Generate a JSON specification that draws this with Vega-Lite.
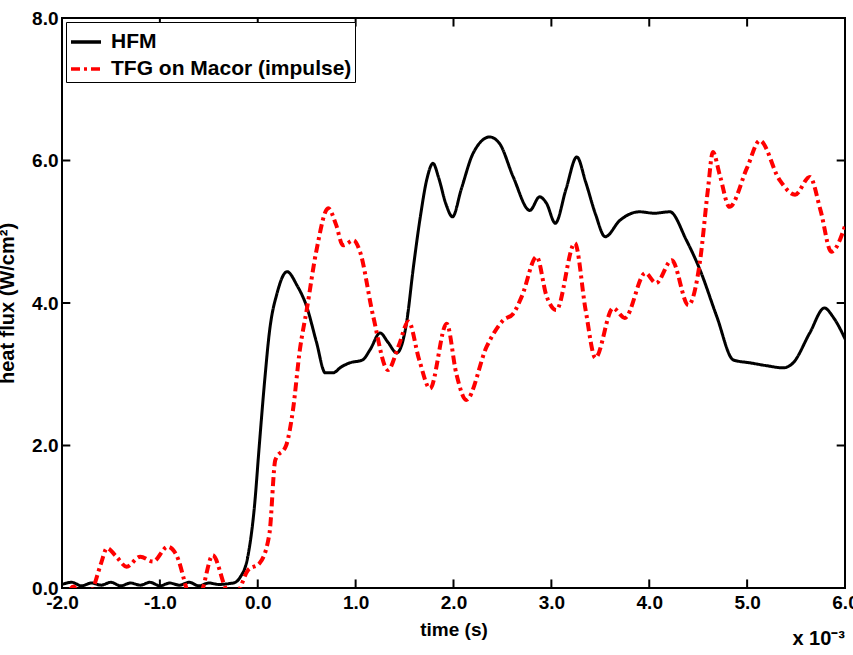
{
  "$schema": "https://vega.github.io/schema/vega-lite/v6.json",
  "width": 783,
  "height": 570,
  "autosize": "none",
  "padding": {"left": 62, "top": 18, "right": 8, "bottom": 67},
  "background": "white",
  "config": {
    "view": {"stroke": "black", "strokeWidth": 2},
    "font": "Liberation Sans",
    "axis": {
      "domainColor": "black", "ticks": false, "grid": false, "labelFont": "Liberation Sans", "labelFontSize": 19,
      "labelFontWeight": "bold", "labelColor": "black", "titleFont": "Liberation Sans",
      "titleFontSize": 19, "titleFontWeight": "bold", "titleColor": "black", "labelFlush": false
    },
    "legend": {
      "orient": "top-left", "offset": 4, "strokeColor": "black", "fillColor": "white", "padding": 3,
      "labelFont": "Liberation Sans", "labelFontSize": 21, "labelFontWeight": "bold", "labelColor": "black", "labelLimit": 0,
      "symbolType": "stroke", "symbolSize": 900, "symbolStrokeWidth": 3.5, "rowPadding": 0, "labelOffset": 8
    }
  },
  "title": {"text": "x 10⁻³", "orient": "bottom", "anchor": "end", "frame": "group", "fontSize": 20, "fontWeight": "bold", "font": "Liberation Sans", "color": "black", "offset": -10},
  "datasets": {
    "xticks": [{"t": -1}, {"t": 0}, {"t": 1}, {"t": 2}, {"t": 3}, {"t": 4}, {"t": 5}],
    "yticks": [{"q": 2}, {"q": 4}, {"q": 6}]
  },
  "data": {"values": [
    {"series": "HFM", "t": -2.0, "q": 0.05}, {"series": "HFM", "t": -1.9, "q": 0.08}, {"series": "HFM", "t": -1.8, "q": 0.03}, {"series": "HFM", "t": -1.7, "q": 0.07}, {"series": "HFM", "t": -1.6, "q": 0.04}, {"series": "HFM", "t": -1.5, "q": 0.08}, {"series": "HFM", "t": -1.4, "q": 0.03}, {"series": "HFM", "t": -1.3, "q": 0.07}, {"series": "HFM", "t": -1.2, "q": 0.04}, {"series": "HFM", "t": -1.1, "q": 0.08}, {"series": "HFM", "t": -1.0, "q": 0.03}, {"series": "HFM", "t": -0.9, "q": 0.07}, {"series": "HFM", "t": -0.8, "q": 0.04}, {"series": "HFM", "t": -0.7, "q": 0.08}, {"series": "HFM", "t": -0.6, "q": 0.03}, {"series": "HFM", "t": -0.5, "q": 0.07}, {"series": "HFM", "t": -0.4, "q": 0.05}, {"series": "HFM", "t": -0.3, "q": 0.06}, {"series": "HFM", "t": -0.23, "q": 0.08}, {"series": "HFM", "t": -0.18, "q": 0.15}, {"series": "HFM", "t": -0.10, "q": 0.45}, {"series": "HFM", "t": -0.03, "q": 1.2}, {"series": "HFM", "t": 0.01, "q": 1.9}, {"series": "HFM", "t": 0.07, "q": 2.9}, {"series": "HFM", "t": 0.12, "q": 3.6}, {"series": "HFM", "t": 0.2, "q": 4.15}, {"series": "HFM", "t": 0.3, "q": 4.44}, {"series": "HFM", "t": 0.4, "q": 4.25}, {"series": "HFM", "t": 0.5, "q": 3.95}, {"series": "HFM", "t": 0.6, "q": 3.45}, {"series": "HFM", "t": 0.69, "q": 3.02}, {"series": "HFM", "t": 0.77, "q": 3.02}, {"series": "HFM", "t": 0.85, "q": 3.1}, {"series": "HFM", "t": 0.94, "q": 3.16}, {"series": "HFM", "t": 1.07, "q": 3.2}, {"series": "HFM", "t": 1.15, "q": 3.35}, {"series": "HFM", "t": 1.25, "q": 3.58}, {"series": "HFM", "t": 1.33, "q": 3.45}, {"series": "HFM", "t": 1.42, "q": 3.3}, {"series": "HFM", "t": 1.52, "q": 3.72}, {"series": "HFM", "t": 1.59, "q": 4.5}, {"series": "HFM", "t": 1.66, "q": 5.2}, {"series": "HFM", "t": 1.73, "q": 5.75}, {"series": "HFM", "t": 1.79, "q": 5.96}, {"series": "HFM", "t": 1.85, "q": 5.75}, {"series": "HFM", "t": 1.92, "q": 5.4}, {"series": "HFM", "t": 1.99, "q": 5.21}, {"series": "HFM", "t": 2.08, "q": 5.6}, {"series": "HFM", "t": 2.2, "q": 6.1}, {"series": "HFM", "t": 2.37, "q": 6.33}, {"series": "HFM", "t": 2.47, "q": 6.24}, {"series": "HFM", "t": 2.61, "q": 5.77}, {"series": "HFM", "t": 2.78, "q": 5.3}, {"series": "HFM", "t": 2.88, "q": 5.49}, {"series": "HFM", "t": 2.95, "q": 5.4}, {"series": "HFM", "t": 3.04, "q": 5.12}, {"series": "HFM", "t": 3.15, "q": 5.6}, {"series": "HFM", "t": 3.26, "q": 6.05}, {"series": "HFM", "t": 3.35, "q": 5.7}, {"series": "HFM", "t": 3.45, "q": 5.25}, {"series": "HFM", "t": 3.55, "q": 4.93}, {"series": "HFM", "t": 3.70, "q": 5.16}, {"series": "HFM", "t": 3.90, "q": 5.28}, {"series": "HFM", "t": 4.05, "q": 5.26}, {"series": "HFM", "t": 4.21, "q": 5.28}, {"series": "HFM", "t": 4.38, "q": 4.88}, {"series": "HFM", "t": 4.52, "q": 4.46}, {"series": "HFM", "t": 4.69, "q": 3.81}, {"series": "HFM", "t": 4.86, "q": 3.2}, {"series": "HFM", "t": 5.03, "q": 3.16}, {"series": "HFM", "t": 5.2, "q": 3.12}, {"series": "HFM", "t": 5.37, "q": 3.09}, {"series": "HFM", "t": 5.47, "q": 3.16}, {"series": "HFM", "t": 5.64, "q": 3.58}, {"series": "HFM", "t": 5.79, "q": 3.93}, {"series": "HFM", "t": 5.88, "q": 3.8}, {"series": "HFM", "t": 6.02, "q": 3.44},
    {"series": "TFG on Macor (impulse)", "t": -2.0, "q": -0.3}, {"series": "TFG on Macor (impulse)", "t": -1.88, "q": 0.02}, {"series": "TFG on Macor (impulse)", "t": -1.78, "q": -0.3}, {"series": "TFG on Macor (impulse)", "t": -1.68, "q": 0.0}, {"series": "TFG on Macor (impulse)", "t": -1.6, "q": 0.35}, {"series": "TFG on Macor (impulse)", "t": -1.54, "q": 0.56}, {"series": "TFG on Macor (impulse)", "t": -1.45, "q": 0.45}, {"series": "TFG on Macor (impulse)", "t": -1.34, "q": 0.30}, {"series": "TFG on Macor (impulse)", "t": -1.2, "q": 0.44}, {"series": "TFG on Macor (impulse)", "t": -1.07, "q": 0.37}, {"series": "TFG on Macor (impulse)", "t": -0.92, "q": 0.58}, {"series": "TFG on Macor (impulse)", "t": -0.83, "q": 0.46}, {"series": "TFG on Macor (impulse)", "t": -0.73, "q": 0.0}, {"series": "TFG on Macor (impulse)", "t": -0.65, "q": -0.4}, {"series": "TFG on Macor (impulse)", "t": -0.56, "q": 0.0}, {"series": "TFG on Macor (impulse)", "t": -0.46, "q": 0.46}, {"series": "TFG on Macor (impulse)", "t": -0.33, "q": 0.0}, {"series": "TFG on Macor (impulse)", "t": -0.25, "q": -0.2}, {"series": "TFG on Macor (impulse)", "t": -0.18, "q": 0.0}, {"series": "TFG on Macor (impulse)", "t": -0.10, "q": 0.25}, {"series": "TFG on Macor (impulse)", "t": 0.02, "q": 0.35}, {"series": "TFG on Macor (impulse)", "t": 0.12, "q": 0.77}, {"series": "TFG on Macor (impulse)", "t": 0.18, "q": 1.8}, {"series": "TFG on Macor (impulse)", "t": 0.29, "q": 2.0}, {"series": "TFG on Macor (impulse)", "t": 0.36, "q": 2.5}, {"series": "TFG on Macor (impulse)", "t": 0.43, "q": 3.34}, {"series": "TFG on Macor (impulse)", "t": 0.5, "q": 3.9}, {"series": "TFG on Macor (impulse)", "t": 0.6, "q": 4.74}, {"series": "TFG on Macor (impulse)", "t": 0.72, "q": 5.33}, {"series": "TFG on Macor (impulse)", "t": 0.8, "q": 5.1}, {"series": "TFG on Macor (impulse)", "t": 0.87, "q": 4.81}, {"series": "TFG on Macor (impulse)", "t": 0.98, "q": 4.88}, {"series": "TFG on Macor (impulse)", "t": 1.04, "q": 4.74}, {"series": "TFG on Macor (impulse)", "t": 1.18, "q": 3.81}, {"series": "TFG on Macor (impulse)", "t": 1.33, "q": 3.06}, {"series": "TFG on Macor (impulse)", "t": 1.44, "q": 3.4}, {"series": "TFG on Macor (impulse)", "t": 1.54, "q": 3.74}, {"series": "TFG on Macor (impulse)", "t": 1.65, "q": 3.2}, {"series": "TFG on Macor (impulse)", "t": 1.76, "q": 2.80}, {"series": "TFG on Macor (impulse)", "t": 1.93, "q": 3.71}, {"series": "TFG on Macor (impulse)", "t": 2.03, "q": 3.0}, {"series": "TFG on Macor (impulse)", "t": 2.13, "q": 2.64}, {"series": "TFG on Macor (impulse)", "t": 2.34, "q": 3.39}, {"series": "TFG on Macor (impulse)", "t": 2.51, "q": 3.76}, {"series": "TFG on Macor (impulse)", "t": 2.61, "q": 3.85}, {"series": "TFG on Macor (impulse)", "t": 2.7, "q": 4.1}, {"series": "TFG on Macor (impulse)", "t": 2.85, "q": 4.65}, {"series": "TFG on Macor (impulse)", "t": 2.95, "q": 4.1}, {"series": "TFG on Macor (impulse)", "t": 3.05, "q": 3.9}, {"series": "TFG on Macor (impulse)", "t": 3.24, "q": 4.84}, {"series": "TFG on Macor (impulse)", "t": 3.35, "q": 3.9}, {"series": "TFG on Macor (impulse)", "t": 3.45, "q": 3.23}, {"series": "TFG on Macor (impulse)", "t": 3.63, "q": 3.93}, {"series": "TFG on Macor (impulse)", "t": 3.75, "q": 3.79}, {"series": "TFG on Macor (impulse)", "t": 3.96, "q": 4.42}, {"series": "TFG on Macor (impulse)", "t": 4.07, "q": 4.28}, {"series": "TFG on Macor (impulse)", "t": 4.23, "q": 4.6}, {"series": "TFG on Macor (impulse)", "t": 4.40, "q": 3.97}, {"series": "TFG on Macor (impulse)", "t": 4.52, "q": 4.6}, {"series": "TFG on Macor (impulse)", "t": 4.6, "q": 5.6}, {"series": "TFG on Macor (impulse)", "t": 4.65, "q": 6.12}, {"series": "TFG on Macor (impulse)", "t": 4.72, "q": 5.8}, {"series": "TFG on Macor (impulse)", "t": 4.82, "q": 5.35}, {"series": "TFG on Macor (impulse)", "t": 5.0, "q": 5.9}, {"series": "TFG on Macor (impulse)", "t": 5.13, "q": 6.28}, {"series": "TFG on Macor (impulse)", "t": 5.33, "q": 5.73}, {"series": "TFG on Macor (impulse)", "t": 5.49, "q": 5.52}, {"series": "TFG on Macor (impulse)", "t": 5.64, "q": 5.77}, {"series": "TFG on Macor (impulse)", "t": 5.75, "q": 5.3}, {"series": "TFG on Macor (impulse)", "t": 5.86, "q": 4.72}, {"series": "TFG on Macor (impulse)", "t": 6.01, "q": 5.12}
  ]},
  "layer": [
    {
      "transform": [{"filter": "datum.series === 'HFM'"}],
      "mark": {"type": "line", "strokeWidth": 3, "interpolate": "monotone", "clip": true},
      "encoding": {
        "x": {"field": "t", "type": "quantitative", "title": "time (s)", "scale": {"domain": [-2, 6], "nice": false, "zero": false}, "axis": {"orient": "bottom", "values": [-2, -1, 0, 1, 2, 3, 4, 5, 6], "labelExpr": "replace(datum.label, '−', '-')", "labelPadding": 5, "titlePadding": 8}},
        "y": {"field": "q", "type": "quantitative", "title": "heat flux (W/cm²)", "scale": {"domain": [0, 8], "nice": false}, "axis": {"orient": "left", "values": [0, 2, 4, 6, 8], "titleFontSize": 20, "labelPadding": 4, "titlePadding": 14}},
        "color": {"field": "series", "type": "nominal", "scale": {"domain": ["HFM", "TFG on Macor (impulse)"], "range": ["black", "red"]}, "legend": {"title": null}},
        "strokeDash": {"field": "series", "type": "nominal", "scale": {"domain": ["HFM", "TFG on Macor (impulse)"], "range": [[1, 0], [9, 4, 3, 4]]}, "legend": {"title": null}}
      }
    },
    {
      "transform": [{"filter": "datum.series !== 'HFM'"}],
      "mark": {"type": "line", "strokeWidth": 4, "interpolate": "monotone", "clip": true},
      "encoding": {
        "x": {"field": "t", "type": "quantitative", "title": "time (s)"},
        "y": {"field": "q", "type": "quantitative", "title": "heat flux (W/cm²)"},
        "color": {"field": "series", "type": "nominal"},
        "strokeDash": {"field": "series", "type": "nominal"}
      }
    },
    {
      "data": {"name": "xticks"},
      "mark": {"type": "rule", "color": "black", "strokeWidth": 2},
      "encoding": {
        "x": {"field": "t", "type": "quantitative", "title": "time (s)"},
        "y": {"datum": 0, "type": "quantitative"},
        "y2": {"datum": 0.12}
      }
    },
    {
      "data": {"name": "xticks"},
      "mark": {"type": "rule", "color": "black", "strokeWidth": 2},
      "encoding": {
        "x": {"field": "t", "type": "quantitative", "title": "time (s)"},
        "y": {"datum": 8, "type": "quantitative"},
        "y2": {"datum": 7.88}
      }
    },
    {
      "data": {"name": "yticks"},
      "mark": {"type": "rule", "color": "black", "strokeWidth": 2},
      "encoding": {
        "y": {"field": "q", "type": "quantitative", "title": "heat flux (W/cm²)"},
        "x": {"datum": -2, "type": "quantitative"},
        "x2": {"datum": -1.915}
      }
    },
    {
      "data": {"name": "yticks"},
      "mark": {"type": "rule", "color": "black", "strokeWidth": 2},
      "encoding": {
        "y": {"field": "q", "type": "quantitative", "title": "heat flux (W/cm²)"},
        "x": {"datum": 6, "type": "quantitative"},
        "x2": {"datum": 5.915}
      }
    }
  ]
}
